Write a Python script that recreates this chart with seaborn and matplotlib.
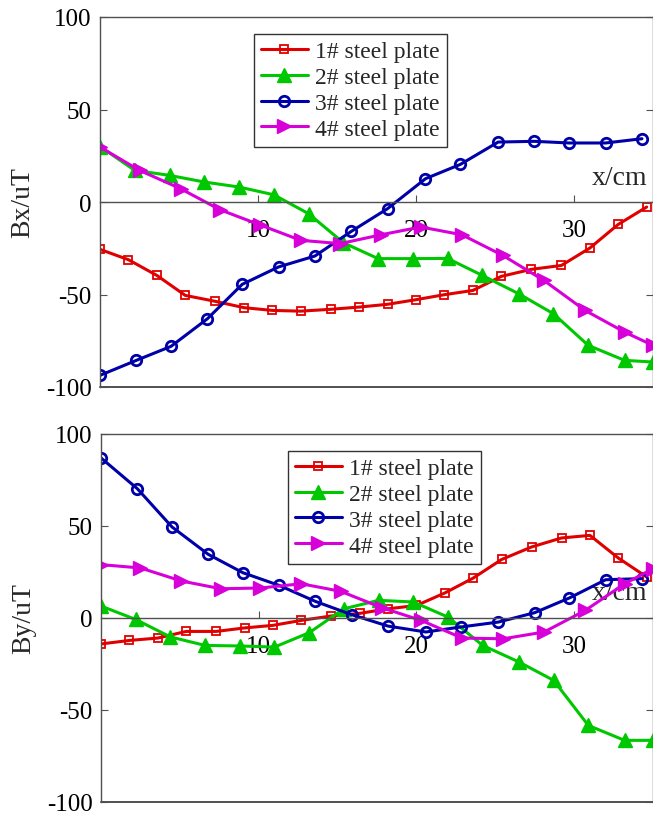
import matplotlib
matplotlib.use("Agg")
import matplotlib.pyplot as plt
import seaborn as sns

sns.set_style("ticks")
plt.rcParams["font.family"] = ["Liberation Serif", "DejaVu Serif"]

labels = ["1# steel plate", "2# steel plate", "3# steel plate", "4# steel plate"]
colors = ["#e00000", "#00c800", "#0000a8", "#d800d8"]

# marker positions (cm) for each plate
x1 = [0, 1.8, 3.6, 5.4, 7.3, 9.1, 10.9, 12.7, 14.6, 16.4, 18.2, 20.0, 21.8,
      23.6, 25.4, 27.3, 29.2, 31.0, 32.8, 34.6]
x2 = [0, 2.2, 4.4, 6.6, 8.8, 11.0, 13.2, 15.4, 17.6, 19.8, 22.0, 24.2, 26.5,
      28.7, 30.9, 33.2, 35.0]
x3 = [0, 2.3, 4.5, 6.8, 9.0, 11.3, 13.6, 15.9, 18.2, 20.6, 22.8, 25.2, 27.5,
      29.7, 32.0, 34.3]
x4 = [0, 2.5, 5.1, 7.6, 10.1, 12.7, 15.2, 17.8, 20.3, 22.9, 25.5, 28.1, 30.7,
      33.2, 35.0]

# Bx (uT)
bx1 = [-25.6, -31.2, -39.7, -50.5, -53.7, -57.1, -58.6, -59.0, -58.0, -56.8,
       -55.3, -52.8, -50.1, -47.8, -40.2, -36.4, -34.3, -24.9, -12.1, -2.7]
bx2 = [30.0, 17.1, 14.4, 10.8, 8.1, 3.9, -6.3, -22.0, -30.6, -30.6, -30.5,
       -39.7, -49.6, -60.4, -77.5, -85.6, -86.5]
bx3 = [-93.7, -85.6, -78.0, -63.1, -44.5, -35.1, -29.2, -15.9, -3.6, 12.6,
       20.3, 32.4, 32.8, 31.9, 31.9, 34.2]
bx4 = [29.7, 17.1, 7.2, -4.2, -12.3, -20.7, -22.5, -17.7, -13.5, -17.7,
       -28.9, -42.4, -58.6, -70.3, -77.5]

# By (uT)
by1 = [-14.1, -12.2, -10.9, -7.3, -7.3, -5.4, -4.0, -1.3, 1.1, 2.5, 5.0,
       6.8, 13.6, 21.7, 31.8, 38.6, 43.5, 44.9, 32.6, 22.3]
by2 = [6.5, -0.8, -10.3, -14.9, -15.2, -15.8, -8.0, 5.0, 9.6, 8.7, 0.5,
       -14.9, -23.9, -33.9, -58.4, -66.5, -66.5]
by3 = [87.0, 70.3, 49.5, 34.6, 24.6, 17.7, 9.0, 1.8, -4.4, -7.6, -4.9,
       -2.2, 2.9, 10.9, 20.8, 21.4]
by4 = [29.0, 27.2, 20.1, 15.9, 16.3, 18.6, 14.5, 5.6, -1.3, -10.9, -11.3,
       -7.6, 4.1, 18.6, 26.8]

xs = [x1, x2, x3, x4]
styles = [
    dict(marker="s", markersize=6, mfc="none", mew=1.3),
    dict(marker="^", markersize=10, mew=1),
    dict(marker="o", markersize=7.5, mfc="none", mew=2),
    dict(marker=">", markersize=10, mew=1),
]

fig = plt.figure(figsize=(6.53, 8.2), dpi=100)
ax_top = fig.add_axes([100 / 653, 1 - 388 / 820, 553 / 653, 370 / 820])
ax_bot = fig.add_axes([101 / 653, 1 - 803 / 820, 552 / 653, 368 / 820])

panels = [
    (ax_top, [bx1, bx2, bx3, bx4], "Bx/uT", (0.278, 0.955), 0.567),
    (ax_bot, [by1, by2, by3, by4], "By/uT", (0.338, 0.955), 0.57),
]

frame_col = "#505050"
for ax, ys, ylab, leg_pos, lab_y in panels:
    for x, y, lab, c, st in zip(xs, ys, labels, colors, styles):
        sns.lineplot(x=x, y=y, ax=ax, color=c, label=lab, lw=2.2,
                     mec=c, sort=False, estimator=None, **st)
    ax.set_xlim(0, 35)
    ax.set_ylim(-100, 100)
    ax.set_yticks([-100, -50, 0, 50, 100])
    ax.set_yticklabels(["-100", "-50", "0", "50", "100"])
    ax.set_xticks([10, 20, 30])
    ax.spines["bottom"].set_position(("data", 0))
    for s in ax.spines.values():
        s.set_color(frame_col)
        s.set_linewidth(1.0)
    ax.axhline(-100, color=frame_col, lw=1.4, clip_on=False, zorder=5)
    ax.tick_params(axis="x", direction="in", length=5, width=0.8,
                   labelsize=18, pad=12, colors=frame_col, labelcolor="black")
    ax.tick_params(axis="y", direction="in", length=5, width=0.8,
                   labelsize=18, pad=6, right=True, colors=frame_col,
                   labelcolor="black")
    ax.set_ylabel(ylab, fontsize=20, labelpad=8)
    ax.set_xlabel("x/cm", fontsize=20)
    ax.xaxis.set_label_coords(0.94, lab_y)
    ax.xaxis.label.set_va("center")
    leg = ax.legend(loc="upper left", bbox_to_anchor=leg_pos, fontsize=17,
                    frameon=True, fancybox=False, edgecolor="black",
                    handlelength=2.0, handletextpad=0.3, labelspacing=0.18,
                    borderpad=0.3, borderaxespad=0, numpoints=1)
    leg.get_frame().set_linewidth(1.0)

fig.savefig("out.png", dpi=100)
